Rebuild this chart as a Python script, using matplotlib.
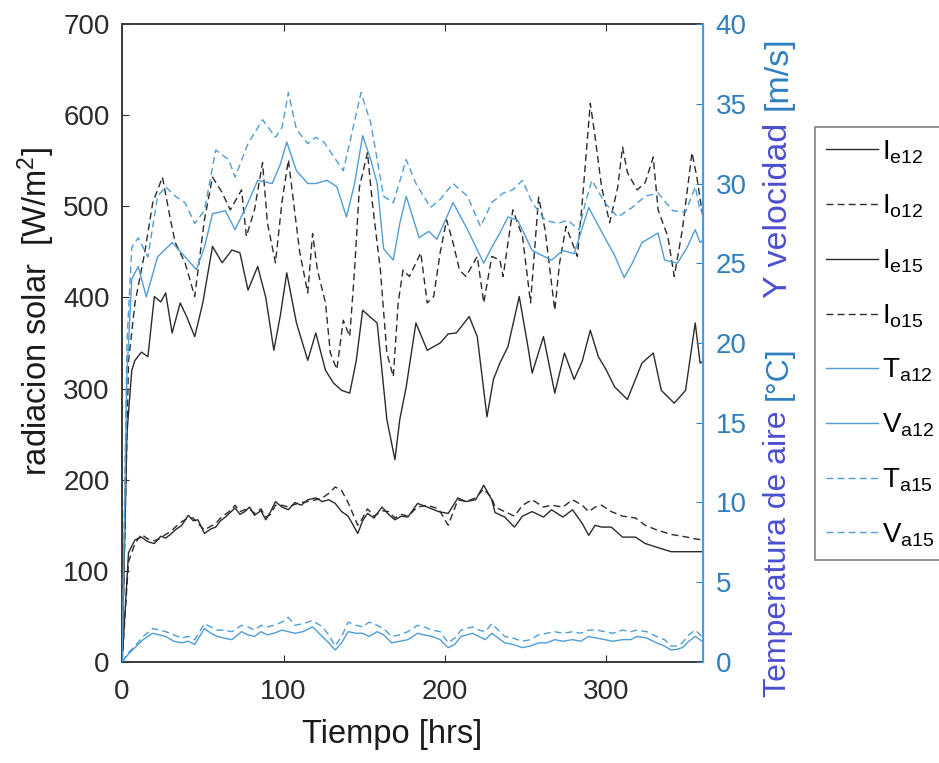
import matplotlib
matplotlib.use("Agg")
import matplotlib.pyplot as plt
from matplotlib.lines import Line2D

plt.rcParams['font.family'] = ['Liberation Sans', 'DejaVu Sans']
plt.rcParams['mathtext.fontset'] = 'custom'
plt.rcParams['mathtext.rm'] = 'Liberation Sans'
plt.rcParams['mathtext.it'] = 'Liberation Sans'
plt.rcParams['mathtext.bf'] = 'Liberation Sans'

# ---------------- data ----------------
t_Ie12 = [0,3,6,8,12,16,20,24,27,31,36,40,45,50,56,62,68,73,78,84,89,94,98,102,108,115,120,126,131,136,
          141,145,149,154,158,164,169,172,176,182,189,197,202,207,215,220,226,230,234,239,246,251,254,261,268,274,280,285,290,295,
          300,305,313,322,329,334,342,349,355,358,360]
Ie12 = [0,250,320,331,340,335,401,395,405,361,394,379,357,394,456,438,452,449,408,434,400,342,380,427,372,331,361,320,306,298,
        295,330,386,378,372,266,222,266,302,372,342,350,360,361,379,357,269,310,328,346,401,350,317,357,295,339,310,330,364,335,
        320,302,288,328,339,298,284,298,372,328,330]

t_Io12 = [0,4,8,14,19,25,30,33,39,45,51,56,62,67,74,77,82,87,90,95,99,103,107,110,115,118,121,126,129,133,
          137,141,144,147,152,155,160,164,168,171,174,178,185,189,193,197,201,205,209,213,220,224,229,234,236,242,248,253,258,262,
          268,271,275,282,285,290,293,297,302,307,310,313,319,324,329,332,338,342,347,353,356,360]
Io12 = [0,330,394,449,504,532,485,460,438,401,485,532,515,496,518,467,496,548,482,438,504,551,493,450,405,470,430,394,339,321,
        375,357,430,521,559,504,430,339,313,394,430,423,449,394,401,449,485,460,430,423,445,394,445,441,423,496,467,394,510,474,
        386,438,478,445,504,613,576,521,482,521,565,537,518,526,554,496,467,423,474,559,532,485]

t_I15 = [0,4,8,12,16,20,24,27,30,33,37,41,44,47,51,55,58,61,64,67,70,73,76,79,82,86,89,92,95,99,
         103,107,111,115,120,124,128,132,136,140,146,149,152,156,161,165,169,173,177,183,189,196,202,208,213,219,224,229,231,237,
         243,248,254,261,266,273,279,285,289,293,297,303,310,318,324,331,340,350,355,360]
Ie15 = [0,120,134,137,132,130,138,136,140,145,150,161,155,156,141,146,148,155,159,164,169,162,165,170,161,166,156,165,176,170,
        167,175,172,178,180,176,178,174,165,160,141,155,163,158,170,162,156,160,159,174,170,165,163,180,176,178,194,178,164,159,
        148,160,165,159,167,159,167,152,139,150,148,148,137,137,130,126,121,121,121,121]
Io15 = [0,110,130,140,135,133,136,140,143,148,154,158,158,152,145,149,152,158,162,166,172,165,167,168,163,168,159,162,172,172,
        170,173,175,176,178,180,185,192,188,175,150,158,168,160,166,165,158,162,160,170,172,168,150,178,176,180,190,180,170,165,
        160,172,178,170,172,170,178,172,165,170,172,165,160,158,150,145,140,137,135,134]

t_Ta12 = [0,3,6,10,15,22,31,39,46,51,56,64,70,78,84,93,98,102,108,115,120,127,133,139,144,149,154,158,162,168,
          172,176,184,190,195,205,214,224,229,234,239,245,254,260,266,273,280,289,299,305,311,316,322,332,336,344,350,355,358,360]
Ta12 = [0,18,24,24.8,22.9,25.4,26.3,25.4,24.6,26,28.1,28.3,27.1,28.8,30.2,30.0,31.2,32.6,30.8,30.0,30.0,30.2,29.8,27.9,30,33.0,31.5,30.0,25.9,25.2,
        27.5,29.2,26.6,27.0,26.5,28.8,27.1,25.0,26.0,26.9,27.9,27.7,25.8,25.5,25.2,25.8,25.6,28.5,26.6,25.5,24.1,25.0,26.3,26.9,25.2,25.0,26.0,27.1,26.3,26.5]

t_Ta15 = [0,3,6,10,16,22,27,33,39,45,51,58,66,70,78,87,95,99,103,108,115,120,125,131,137,142,148,154,158,162,
          168,176,182,191,197,205,214,222,229,236,242,248,254,262,270,276,283,287,291,299,307,316,324,332,341,349,355,358,360]
Ta15 = [0,20,26,26.6,25.4,29.2,29.8,29.2,28.8,27.5,28.3,32.1,31.5,30.4,32.5,34.0,32.9,33.5,35.7,33.4,32.5,32.9,32.6,31.7,30.8,33,35.7,33.8,31.5,29.2,
        28.8,31.5,30.0,28.5,29.0,30.0,29.2,27.3,28.8,29.4,29.6,30.2,28.8,27.7,27.5,27.7,27.1,28.8,30.2,28.8,27.9,28.5,29.2,29.4,28.3,28.2,29.8,28.3,28.5]

t_Va = [0,4,8,13,19,23,27,32,37,41,45,51,55,59,63,68,74,78,82,86,90,94,99,103,107,112,118,124,128,132,
        136,140,145,149,153,158,162,167,172,177,183,187,192,197,202,206,210,217,221,225,229,233,237,242,248,253,258,263,268,273,
        279,284,289,294,299,304,310,315,319,325,331,336,340,344,347,351,355,360]
Va12 = [0,0.5,0.9,1.4,1.8,1.7,1.6,1.3,1.2,1.3,1.1,2.1,1.8,1.6,1.5,1.4,1.9,1.7,1.6,1.9,1.7,1.8,2.0,1.9,1.8,1.9,2.2,1.6,1.2,0.75,
        1.2,1.9,1.8,1.8,1.6,1.9,1.7,1.2,1.3,1.4,1.8,1.7,1.6,1.4,0.9,1.1,1.6,1.8,1.6,1.4,1.8,1.5,1.2,1.1,0.9,1.0,1.2,1.2,1.4,1.3,
        1.4,1.3,1.6,1.5,1.4,1.3,1.4,1.4,1.6,1.5,1.2,1.0,0.75,0.8,0.9,1.3,1.6,1.25]
Va15 = [0,0.6,1.0,1.6,2.1,2.0,1.9,1.7,1.5,1.6,1.4,2.4,2.2,2.0,2.0,1.9,2.3,2.2,2.0,2.3,2.2,2.3,2.5,2.8,2.3,2.4,2.6,2.2,1.7,1.0,
        1.6,2.5,2.3,2.2,2.5,2.3,2.1,1.6,1.7,1.9,2.3,2.2,2.0,1.9,1.2,1.5,2.0,2.2,2.0,1.9,2.4,2.0,1.6,1.5,1.3,1.4,1.7,1.8,1.9,1.8,
        1.9,1.8,2.0,2.0,1.9,1.8,2.0,1.9,2.0,1.9,1.6,1.4,1.0,1.0,1.2,1.7,2.0,1.5]

legend_labels = [r'I$_{\mathrm{e12}}$', r'I$_{\mathrm{o12}}$', r'I$_{\mathrm{e15}}$', r'I$_{\mathrm{o15}}$',
                 r'T$_{\mathrm{a12}}$', r'V$_{\mathrm{a12}}$', r'T$_{\mathrm{a15}}$', r'V$_{\mathrm{a15}}$']

# ---------------- style ----------------
BLACK = '#2b2b2b'
BLUE = '#4f9dd6'
TICKBLUE = '#2f7fc1'
PURPLE = '#4b4fd0'
DASH = (0, (5, 3))
FS = 20

fig = plt.figure(figsize=(9.39, 7.63), dpi=100)
ax = fig.add_axes([0.130, 0.1324, 0.619, 0.8361])
ax2 = ax.twinx()

ax.plot(t_Ie12, Ie12, color=BLACK, lw=1.0, ls='-')
ax.plot(t_Io12, Io12, color=BLACK, lw=1.0, ls=DASH)
ax.plot(t_I15, Ie15, color=BLACK, lw=1.0, ls='-')
ax.plot(t_I15, Io15, color=BLACK, lw=1.0, ls=DASH)

ax2.plot(t_Ta12, Ta12, color=BLUE, lw=1.0, ls='-')
ax2.plot(t_Va, Va12, color=BLUE, lw=1.0, ls='-')
ax2.plot(t_Ta15, Ta15, color=BLUE, lw=1.0, ls=DASH)
ax2.plot(t_Va, Va15, color=BLUE, lw=1.0, ls=DASH)

ax.set_xlim(0, 360)
ax.set_ylim(0, 700)
ax2.set_ylim(0, 40)
ax.set_xticks([0, 100, 200, 300])
ax.set_yticks(range(0, 701, 100))
ax2.set_yticks(range(0, 41, 5))

ax.tick_params(axis='both', direction='in', labelsize=FS, colors=BLACK, length=5, pad=9, top=True)
ax.tick_params(axis='x', pad=12)
ax2.tick_params(axis='y', direction='in', labelsize=FS, colors=TICKBLUE, length=5, pad=9)

for s in ['left', 'bottom', 'top']:
    ax.spines[s].set_color('#3a3a3a')
    ax.spines[s].set_linewidth(1.4)
ax2.spines['right'].set_color(BLUE)
ax2.spines['right'].set_linewidth(1.4)
for s in ['left', 'bottom', 'top']:
    ax2.spines[s].set_visible(False)

ax.set_xlabel('Tiempo [hrs]', fontsize=23.5, color='#1a1a1a')
ax.xaxis.set_label_coords(0.465, -0.090)
ax.set_ylabel(r'radiacion solar  [W/m$^{2}$]', fontsize=23.5, color='#1a1a1a')
ax.yaxis.set_label_coords(-0.112, 0.549)

# right axis label, in coloured pieces
XR = 0.829
fig.text(XR, 1 - 697 / 763, 'Temperatura de aire', rotation=90, color=PURPLE, fontsize=23,
         ha='center', va='bottom')
fig.text(XR, 1 - 400 / 763, '[°C]', rotation=90, color=TICKBLUE, fontsize=23, ha='center', va='bottom')
fig.text(XR, 1 - 298 / 763, 'Y velocidad', rotation=90, color=PURPLE, fontsize=24.5, ha='center', va='bottom')
fig.text(XR, 1 - 110 / 763, '[m/s]', rotation=90, color=TICKBLUE, fontsize=24.5, ha='center', va='bottom')

handles = [Line2D([], [], color=BLACK, lw=1.0, ls='-'),
           Line2D([], [], color=BLACK, lw=1.0, ls=DASH),
           Line2D([], [], color=BLACK, lw=1.0, ls='-'),
           Line2D([], [], color=BLACK, lw=1.0, ls=DASH),
           Line2D([], [], color=BLUE, lw=1.0, ls='-'),
           Line2D([], [], color=BLUE, lw=1.0, ls='-'),
           Line2D([], [], color=BLUE, lw=1.0, ls=DASH),
           Line2D([], [], color=BLUE, lw=1.0, ls=DASH)]
leg = fig.legend(handles, legend_labels, loc='upper left', bbox_to_anchor=(0.868, 1 - 127 / 763),
                 fontsize=20, frameon=True, fancybox=False, edgecolor='#777777',
                 handlelength=1.87, handletextpad=0.15, labelspacing=0.98, borderpad=0.4,
                 borderaxespad=0)
leg.get_frame().set_linewidth(1.4)

fig.savefig('out.png', dpi=100)
